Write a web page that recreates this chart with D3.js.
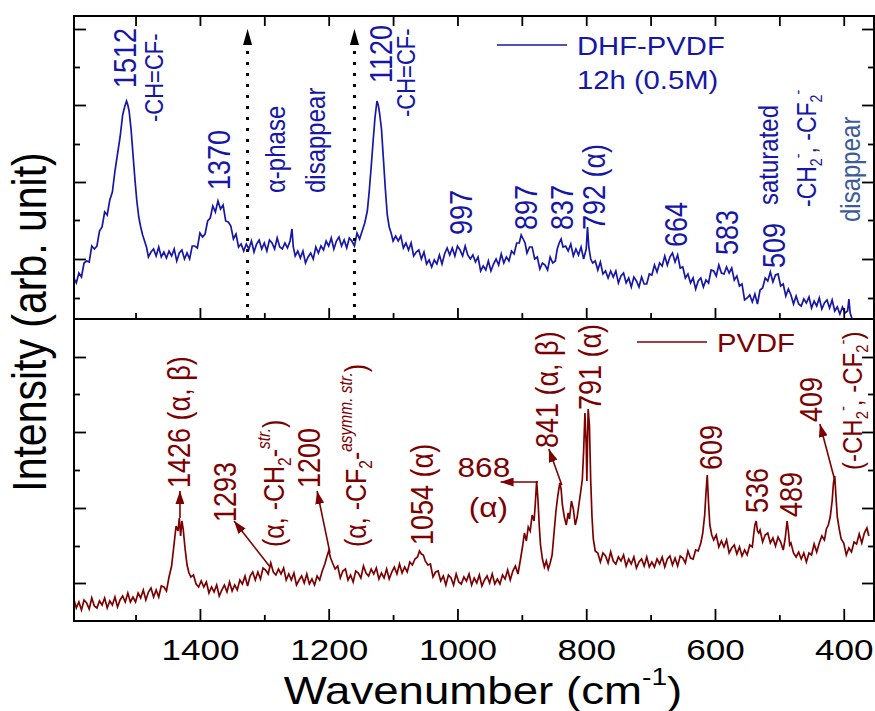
<!DOCTYPE html>
<html>
<head>
<meta charset="utf-8">
<script src="https://cdn.jsdelivr.net/npm/d3@7"></script>
<style>
body { margin: 0; background: #fff; }
text { font-family: "Liberation Sans", Arial, sans-serif; }
</style>
</head>
<body>
<script>
// spectra: [wavenumber (cm-1), intensity (arb.)]
const dhfPvdf = [[1596,41],[1592,36],[1588,46],[1584,42],[1580,56],[1576,58],[1572,57],[1568,73],[1564,70],[1560,73],[1556,88],[1552,92],[1548,107],[1544,104],[1540,119],[1536,127],[1532,148],[1528,165],[1524,182],[1520,204],[1517,212],[1514,218],[1512,214],[1510,208],[1507,190],[1504,165],[1501,140],[1498,118],[1495,102],[1492,92],[1489,84],[1486,78],[1483,72],
[1480,62],[1476,67],[1472,70],[1468,63],[1464,72],[1460,62],[1456,67],[1452,61],[1448,68],[1444,63],[1440,70],[1436,58],[1432,66],[1428,69],[1424,60],[1420,66],[1416,60],[1412,73],[1408,73],[1404,71],[1400,86],[1396,82],[1392,85],[1388,98],[1384,101],[1380,113],[1376,107],[1372,118],[1368,110],[1364,114],[1360,98],[1356,97],[1352,93],[1348,80],[1344,85],[1340,72],[1336,75],[1332,68],[1328,75],[1324,70],[1320,78],[1316,67],[1312,75],[1308,79],[1304,70],[1300,76],[1296,68],[1292,79],[1288,76],[1284,70],[1280,81],[1276,72],[1272,70],[1268,76],[1264,71],[1260,78],[1257,90],[1255,72],[1252,63],[1248,68],[1244,61],[1240,68],[1236,56],[1232,62],[1228,66],[1224,60],[1220,72],[1216,66],[1212,73],[1208,69],[1204,78],[1200,73],[1196,81],[1192,70],[1188,78],[1184,82],[1180,73],[1176,79],[1172,71],[1168,81],[1164,78],[1160,73],[1156,86],[1152,80],[1148,88],[1144,96],[1140,108],[1137,128],[1134,152],[1131,178],[1128,202],[1125,218],[1123,214],[1121,206],[1118,190],[1115,160],[1112,130],[1109,104],[1106,92],[1103,86],
[1100,78],[1096,83],[1092,78],[1088,83],[1084,71],[1080,76],[1076,69],[1072,76],[1068,63],[1064,67],[1060,69],[1056,60],[1052,67],[1048,55],[1044,59],[1040,52],[1036,59],[1032,55],[1028,64],[1024,55],[1020,65],[1016,71],[1012,64],[1008,71],[1004,63],[1000,73],[996,69],[992,63],[988,73],[984,64],[980,60],[976,64],[972,57],[968,62],[964,48],[960,53],[956,49],[952,58],[948,48],[944,55],[940,60],[936,54],[932,65],[928,56],[924,62],[920,58],[916,68],[912,65],[908,76],[904,76],[901,84],[898,80],[895,76],[892,66],[888,72],[884,72],[880,60],[876,62],[872,50],[868,56],[864,54],[860,49],[856,62],[852,56],[848,58],[845,70],[842,76],[839,80],[836,72],[832,73],[828,68],[824,75],[820,63],[816,70],[812,64],[808,72],[804,60],[800,70],[798,92],[796,72],[793,60],
[790,56],[786,58],[782,49],[778,57],[774,45],[770,48],[766,41],[762,48],[758,42],[754,48],[750,36],[746,43],[742,46],[738,36],[734,41],[730,32],[726,42],[722,38],[718,32],[714,42],[710,35],[706,35],[702,45],[698,44],[694,54],[690,47],[686,56],[682,53],[678,63],[674,54],[670,62],[666,66],[662,57],[658,64],[654,51],[650,52],[646,41],[642,45],[638,36],[634,41],[630,30],[626,38],[622,41],[618,32],[614,39],[610,36],[606,49],[602,48],[598,43],[594,54],[590,46],[586,45],[582,52],[578,46],[574,51],[570,39],[566,43],[562,33],[558,35],[554,19],[550,21],[546,24],[542,17],[538,25],[534,15],[530,29],[526,31],[522,41],[518,38],[514,47],[510,37],[506,44],[502,45],[498,33],[494,35],[490,23],[486,30],[482,24],[478,15],[474,23],[470,15],[466,13],[462,20],[458,16],[454,22],[450,11],[446,18],[442,13],[438,21],[434,10],[430,16],[426,19],[422,11],[418,19],[414,8],[410,12],[406,5],[402,12],[398,6],[394,8],[392,20],[390,6],[388,2],[386,-3]]

const pvdf = [[1596,22],[1592,13],[1588,19],[1584,11],[1580,21],[1576,18],[1572,12],[1568,23],[1564,15],[1560,13],[1556,20],[1552,16],[1548,23],[1544,13],[1540,20],[1536,16],[1532,24],[1528,14],[1524,21],[1520,25],[1516,19],[1512,28],[1508,19],[1504,24],[1500,19],[1496,28],[1492,23],[1488,31],[1484,21],[1480,29],[1476,33],[1472,24],[1468,31],[1464,24],[1460,35],[1456,34],[1452,30],
[1448,44],[1444,55],[1440,78],[1437,95],[1434,90],[1432,103],[1430,85],[1428,100],[1426,92],[1423,72],[1420,56],[1417,48],[1414,44],
[1410,46],[1406,37],[1402,34],[1398,40],[1394,34],[1390,39],[1386,28],[1382,34],[1378,29],[1374,36],[1370,25],[1366,31],[1362,36],[1358,29],[1354,39],[1350,30],[1346,36],[1342,31],[1338,41],[1334,37],[1330,45],[1326,35],[1322,45],[1318,49],[1314,41],[1310,49],[1306,42],[1302,53],[1298,51],[1294,47],[1290,58],[1286,49],[1282,46],[1278,52],[1274,47],[1270,53],[1266,41],[1262,47],[1258,41],[1254,48],[1250,36],[1246,41],[1242,45],[1238,38],[1234,47],[1230,37],[1226,42],[1222,36],[1218,45],[1214,41],
[1210,50],[1206,57],[1203,64],[1200,70],[1197,63],[1194,58],[1190,52],
[1186,55],[1182,43],[1178,50],[1174,52],[1170,41],[1166,46],[1162,39],[1158,50],[1154,48],[1150,43],[1146,55],[1142,48],[1138,45],[1134,52],[1130,47],[1126,53],[1122,42],[1118,48],[1114,43],[1110,52],[1106,42],[1102,49],[1098,54],[1094,47],[1090,57],[1086,48],[1082,54],[1078,49],[1074,59],[1070,56],
[1066,62],[1062,64],[1059,70],[1056,67],[1053,66],[1050,60],[1046,56],
[1042,57],[1038,44],[1034,49],[1030,50],[1026,40],[1022,45],[1018,36],[1014,46],[1010,43],[1006,36],[1002,47],[998,39],[994,37],[990,44],[986,40],[982,47],[978,36],[974,43],[970,38],[966,46],[962,35],[958,41],[954,45],[950,38],[946,47],[942,37],[938,42],[934,37],[930,46],[926,42],[922,51],[918,41],[914,50],[910,55],[906,47],
[902,62],[899,74],[896,88],[893,80],[890,94],[887,90],[884,106],[881,100],[879,118],[877,140],[875,122],[873,96],[871,76],[868,62],[865,54],[862,60],[859,52],[856,58],[853,66],[850,88],[847,110],[844,126],[841,138],[839,132],[837,116],[834,104],[831,96],[828,108],[826,102],[823,120],[820,112],[817,96],[814,104],[811,118],[808,132],[806,142],[804,170],[802,208],[800,176],[799,140],[797,212],[795,196],[793,140],[791,104],[789,82],[786,70],
[782,68],[778,59],[774,68],[770,65],[766,58],[762,69],[758,60],[754,57],[750,64],[746,60],[742,66],[738,55],[734,62],[730,57],[726,64],[722,53],[718,59],[714,62],[710,55],[706,64],[702,54],[698,59],[694,54],[690,62],[686,57],[682,64],[678,54],[674,62],[670,65],[666,56],[662,63],[658,55],[654,65],[650,63],[646,58],[642,70],[638,63],[634,62],[630,71],
[626,70],[622,78],[619,88],[616,106],[614,128],[612,146],[610,118],[608,96],[605,86],
[602,81],[598,86],[594,74],[590,80],[586,74],[582,81],[578,68],[574,73],[570,76],[566,67],[562,74],[558,65],[554,71],[550,66],[546,76],[542,74],
[540,86],[538,96],[536,100],[534,90],[532,88],
[530,91],[526,79],[522,86],[518,88],[514,78],[510,83],[506,75],[502,84],[498,79],[494,71],
[491,82],[488,100],[486,90],[484,76],
[482,78],[478,68],[474,64],[470,69],[466,62],[462,68],[458,59],[454,68],[450,66],[446,77],[442,69],[438,78],[434,85],[430,81],
[427,92],[424,96],[421,104],[418,120],[416,138],[414,145],[412,124],[410,104],[407,92],[404,82],
[400,78],[396,66],[392,73],[388,69],[384,79],[380,77],[376,87],[372,78],[368,88],[364,93],[361,85]]

const majorTicks = [1400, 1200, 1000, 800, 600, 400]
const minorTicks = [1500, 1300, 1100, 900, 700, 500]
const topYTicks = [21, 60, 99, 137, 175, 214, 252, 290]
const botYTicks = [38, 75, 113, 151, 189, 227, 264]

// dotted "alpha-phase disappear" markers (wavenumber)
const markerWn = [1326, 1160]

// peak labels: text, anchor wavenumber, anchor intensity, font size
const topLabels = [
    ["1512", 1499, 231, 27],
    ["-CH=CF-", 1457, 197, 22],
    ["1370", 1353, 129, 27],
    ["\u03b1-phase", 1268, 126, 24],
    ["disappear", 1206, 126, 24],
    ["1120", 1102, 236, 27],
    ["-CH=CF-", 1066, 202, 22],
    ["997", 977, 84, 27],
    ["897", 876, 89, 27],
    ["837", 821, 89, 27],
    ["792 (\u03b1)", 771, 89, 27],
    ["664", 643, 72, 27],
    ["583", 564, 64, 27],
    ["509", 491, 51, 27],
    ["saturated", 502, 114, 24],
    ["-CH_{2}^{-}, -CF_{2}^{-}", 443, 112, 23],
]
const botLabels = [
    ["1426 (\u03b1, \u03b2)", 1415, 133, 27],
    ["1293", 1344, 99, 27],
    ["(\u03b1, -CH_{2}-^{str.})", 1269, 74, 25],
    ["1200", 1213, 133, 27],
    ["(\u03b1, -CF_{2}-^{asymm. str.})", 1142, 74, 25],
    ["1054 (\u03b1)", 1038, 76, 27],
    ["841 (\u03b1, \u03b2)", 844, 173, 27],
    ["791 (\u03b1)", 777, 211, 27],
    ["609", 589, 151, 27],
    ["536", 518, 108, 27],
    ["489", 465, 104, 27],
    ["409", 434, 199, 27],
    ["(-CH_{2}^{-}, -CF_{2}^{-})", 372, 151, 24],
]
// horizontal labels in the lower panel
const botFlatLabels = [["868", 959, 144, 27], ["(\u03b1)", 952, 104, 27]]
// arrows: from (wn, I) to (wn, I)
const botArrows = [
    [[1431, 103], [1431, 130]],
    [[1291, 54], [1347, 100]],
    [[1198, 68], [1218, 130]],
    [[875, 139], [933, 139]],
    [[838, 136], [858, 172]],
    [[414, 141], [437, 197]],
]

const W = 875, H = 711
const pLeft = 74, pRight = 874, pTop = 16, pMid = 319, pBottom = 621
const sx = 1.17
const blue = "#1616a8", red = "#7d0000"

const svg = d3.select("body").append("svg")
    .attr("width", W)
    .attr("height", H)

const x = d3.scaleLinear().domain([1595.6, 353]).range([pLeft, pRight])
const yTop = d3.scaleLinear().domain([0, 303]).range([pMid, pTop])
const yBot = d3.scaleLinear().domain([0, 302]).range([pBottom, pMid])

const defs = svg.append("defs")
defs.append("clipPath").attr("id", "clipTop").append("rect")
    .attr("x", pLeft).attr("y", pTop).attr("width", pRight - pLeft).attr("height", pMid - pTop)
defs.append("clipPath").attr("id", "clipBot").append("rect")
    .attr("x", pLeft).attr("y", pMid).attr("width", pRight - pLeft).attr("height", pBottom - pMid)

function arrowMarker(id, color, len, wid) {
    defs.append("marker")
        .attr("id", id)
        .attr("markerUnits", "userSpaceOnUse")
        .attr("viewBox", `0 ${-wid / 2} ${len} ${wid}`)
        .attr("refX", len).attr("refY", 0)
        .attr("markerWidth", len).attr("markerHeight", wid)
        .attr("orient", "auto")
        .append("path")
        .attr("d", `M0,${-wid / 2}L${len},0L0,${wid / 2}Z`)
        .attr("fill", color)
}
arrowMarker("headRed", red, 13, 9)
arrowMarker("headBlack", "#000", 16, 9)

// spectra
const line = ys => d3.line().x(d => x(d[0])).y(d => ys(d[1]))
svg.append("path")
    .datum(dhfPvdf)
    .attr("clip-path", "url(#clipTop)")
    .attr("d", line(yTop))
    .attr("fill", "none")
    .attr("stroke", blue)
    .attr("stroke-width", 1.7)
svg.append("path")
    .datum(pvdf)
    .attr("clip-path", "url(#clipBot)")
    .attr("d", line(yBot))
    .attr("fill", "none")
    .attr("stroke", red)
    .attr("stroke-width", 1.7)

// axes, ticks pointing inward
function xAxis(gen, ypos, values, size, labels) {
    const g = svg.append("g")
        .attr("transform", "translate(0," + ypos + ")")
        .call(gen(x).tickValues(values).tickSize(-size).tickFormat(labels ? (d => d) : ""))
    g.select(".domain").remove()
    g.selectAll("line").attr("stroke", "#000").attr("stroke-width", 1.8)
    return g
}
xAxis(d3.axisTop, pTop, majorTicks, 10, false)
xAxis(d3.axisTop, pTop, minorTicks, 10, false)
xAxis(d3.axisBottom, pMid, majorTicks, 11, false)
xAxis(d3.axisBottom, pMid, minorTicks, 6, false)
xAxis(d3.axisBottom, pBottom, minorTicks, 6, false)
const xb = xAxis(d3.axisBottom, pBottom, majorTicks, 12, true)
xb.selectAll("text")
    .attr("y", 39)
    .attr("dy", null)
    .attr("transform", `scale(${sx},1)`)
    .attr("fill", "#000")
    .style("font-size", "30px")

function yAxis(gen, xpos, ys, values, firstLong) {
    values.forEach((v, i) => {
        const long = (i % 2 == 0) == firstLong
        const g = svg.append("g")
            .attr("transform", "translate(" + xpos + ",0)")
            .call(gen(ys).tickValues([v]).tickSize(-(long ? 12 : 6)).tickFormat(""))
        g.select(".domain").remove()
        g.selectAll("line").attr("stroke", "#000").attr("stroke-width", 1.8)
    })
}
yAxis(d3.axisLeft, pLeft, yTop, topYTicks, false)
yAxis(d3.axisRight, pRight, yTop, topYTicks, false)
yAxis(d3.axisLeft, pLeft, yBot, botYTicks, true)
yAxis(d3.axisRight, pRight, yBot, botYTicks, true)

// frames
svg.append("rect").attr("x", pLeft).attr("y", pTop).attr("width", pRight - pLeft).attr("height", pMid - pTop)
    .attr("fill", "none").attr("stroke", "#000").attr("stroke-width", 2)
svg.append("rect").attr("x", pLeft).attr("y", pMid).attr("width", pRight - pLeft).attr("height", pBottom - pMid)
    .attr("fill", "none").attr("stroke", "#000").attr("stroke-width", 2)

// dotted arrows
markerWn.forEach(w => {
    svg.append("line")
        .attr("x1", x(w)).attr("x2", x(w))
        .attr("y1", yTop(1)).attr("y2", yTop(276))
        .attr("stroke", "#000")
        .attr("stroke-width", 3)
        .attr("stroke-dasharray", "3,8")
    svg.append("line")
        .attr("x1", x(w)).attr("x2", x(w))
        .attr("y1", yTop(276)).attr("y2", yTop(290))
        .attr("stroke", "#000")
        .attr("stroke-width", 0.1)
        .attr("marker-end", "url(#headBlack)")
})

// rich text: _{sub} and ^{sup}
function rich(t, str, size) {
    const parts = str.split(/(_\{[^}]*\}|\^\{[^}]*\})/).filter(s => s)
    let shift = 0
    parts.forEach(p => {
        let dy = 0, fs = size, txt = p, italic = false
        if (p[0] == "_") { txt = p.slice(2, -1); fs = size * 0.62; dy = size * 0.22 }
        else if (p[0] == "^") { txt = p.slice(2, -1); fs = size * 0.62; dy = -size * 0.48; italic = /[a-z]/.test(txt) }
        t.append("tspan")
            .attr("dy", dy - shift)
            .style("font-size", fs + "px")
            .style("font-style", italic ? "italic" : "normal")
            .text(txt)
        shift = dy
    })
}

function vLabel(d, ys, color) {
    const t = svg.append("text")
        .attr("transform", `translate(${x(d[1])},${ys(d[2])}) scale(${sx},1) rotate(-90)`)
        .attr("fill", color)
        .style("font-size", d[3] + "px")
    rich(t, d[0], d[3])
    return t
}
topLabels.forEach(d => vLabel(d, yTop, blue))
vLabel(["disappear", 375, 97, 24], yTop, "#3d5b98")
botLabels.forEach(d => vLabel(d, yBot, red))
botFlatLabels.forEach(d => {
    svg.append("text")
        .attr("transform", `translate(${x(d[1])},${yBot(d[2])}) scale(${sx},1)`)
        .attr("text-anchor", "middle")
        .attr("fill", red)
        .style("font-size", d[3] + "px")
        .text(d[0])
})
botArrows.forEach(a => {
    svg.append("line")
        .attr("x1", x(a[0][0])).attr("y1", yBot(a[0][1]))
        .attr("x2", x(a[1][0])).attr("y2", yBot(a[1][1]))
        .attr("stroke", red)
        .attr("stroke-width", 1.6)
        .attr("marker-end", "url(#headRed)")
})

// legends
function legend(x0, y0, color, lines) {
    svg.append("line")
        .attr("x1", x0).attr("x2", x0 + 70)
        .attr("y1", y0).attr("y2", y0)
        .attr("stroke", color).attr("stroke-width", 1.6)
    lines.forEach((s, i) => {
        svg.append("text")
            .attr("transform", `translate(${x0 + 80},${y0 + 10 + i * 34}) scale(${sx},1)`)
            .attr("fill", color)
            .style("font-size", "25px")
            .text(s)
    })
}
legend(497, 45, blue, ["DHF-PVDF", "12h (0.5M)"])
legend(637, 342, red, ["PVDF"])

// axis titles
const xt = svg.append("text")
    .attr("transform", `translate(${(pLeft + pRight) / 2 + 9},704) scale(${sx},1)`)
    .attr("text-anchor", "middle")
    .attr("fill", "#000")
    .style("font-size", "39px")
rich(xt, "Wavenumber (cm^{-1})", 39)

svg.append("text")
    .attr("transform", `translate(46,322) scale(${sx},1) rotate(-90)`)
    .attr("text-anchor", "middle")
    .attr("fill", "#000")
    .style("font-size", "41px")
    .text("Intensity (arb. unit)")
</script>
</body>
</html>
